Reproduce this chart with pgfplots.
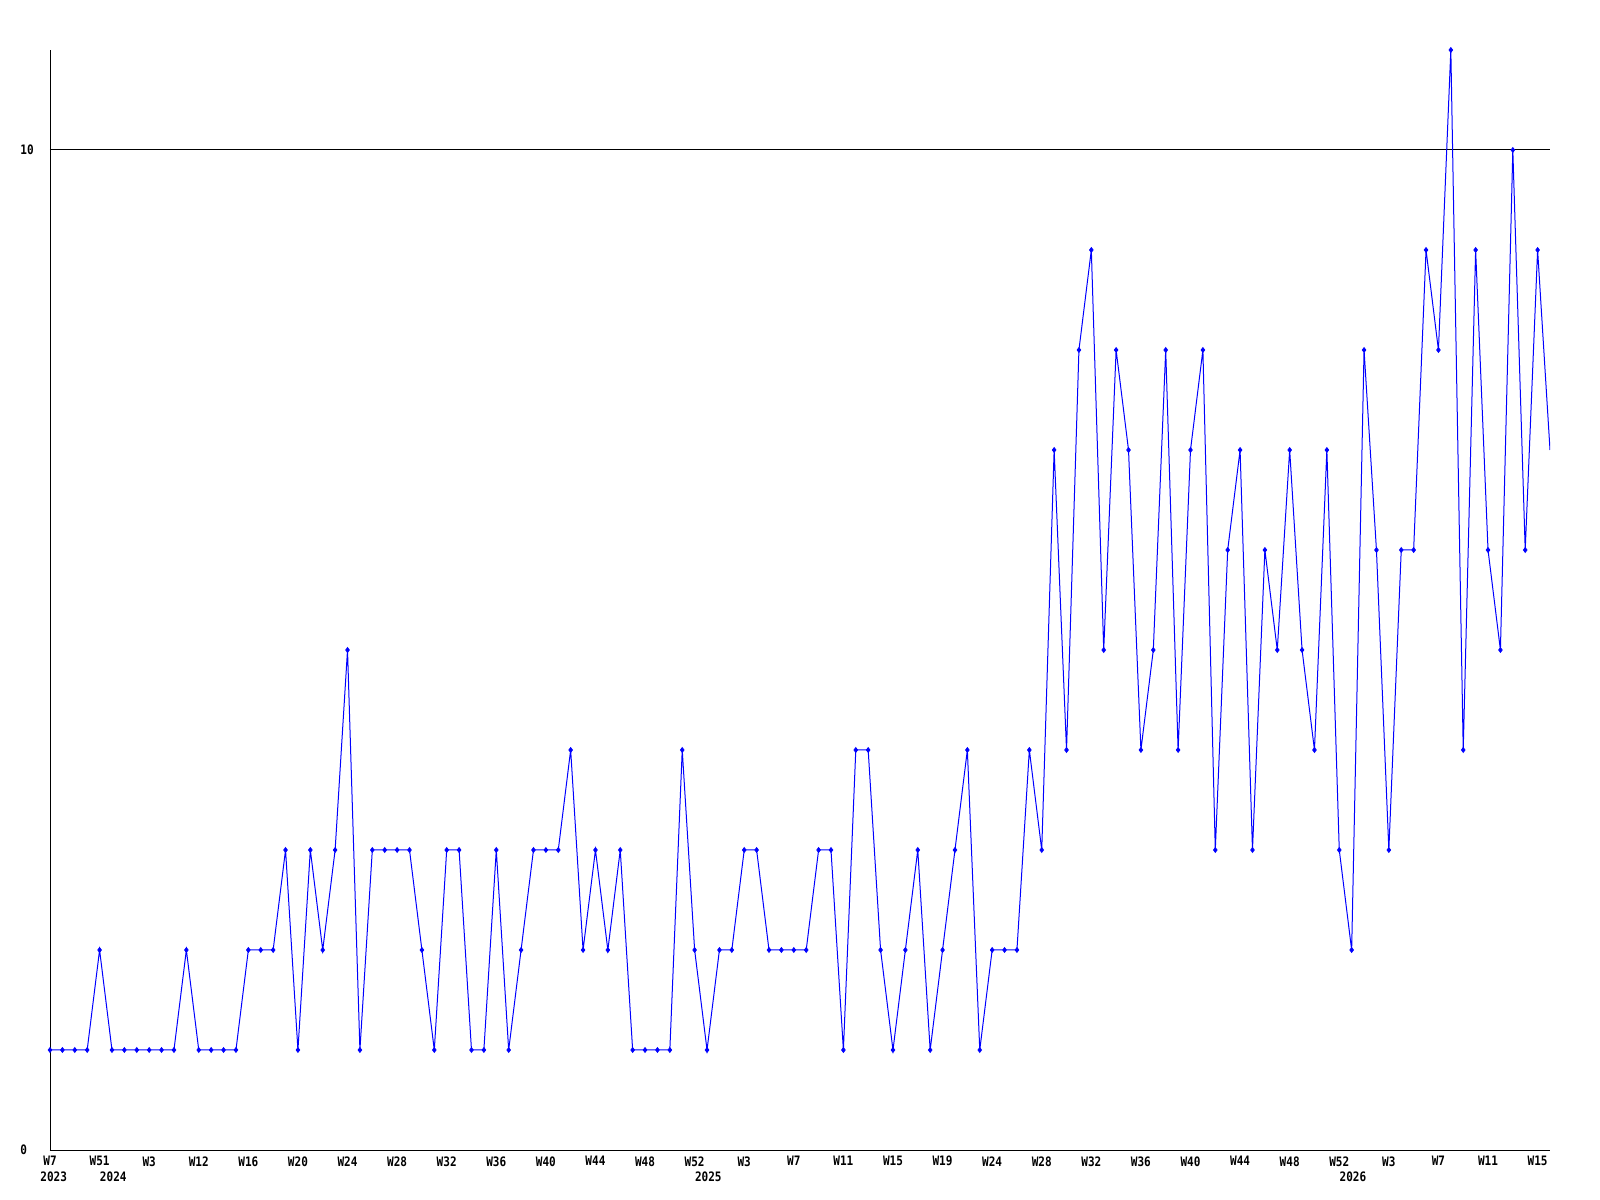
\documentclass[border=0pt]{standalone}
\usepackage{fontspec}
\usepackage{pgfplots}
\usepackage{pgfplotstable}
\pgfplotsset{compat=1.18}
\newfontfamily\pixfont[FakeStretch=0.85]{DejaVu Sans Mono}

% one row per week, idx = position on the x axis
\pgfplotstableread{
idx val
0 1
1 1
2 1
3 1
4 2
5 1
6 1
7 1
8 1
9 1
10 1
11 2
12 1
13 1
14 1
15 1
16 2
17 2
18 2
19 3
20 1
21 3
22 2
23 3
24 5
25 1
26 3
27 3
28 3
29 3
30 2
31 1
32 3
33 3
34 1
35 1
36 3
37 1
38 2
39 3
40 3
41 3
42 4
43 2
44 3
45 2
46 3
47 1
48 1
49 1
50 1
51 4
52 2
53 1
54 2
55 2
56 3
57 3
58 2
59 2
60 2
61 2
62 3
63 3
64 1
65 4
66 4
67 2
68 1
69 2
70 3
71 1
72 2
73 3
74 4
75 1
76 2
77 2
78 2
79 4
80 3
81 7
82 4
83 8
84 9
85 5
86 8
87 7
88 4
89 5
90 8
91 4
92 7
93 8
94 3
95 6
96 7
97 3
98 6
99 5
100 7
101 5
102 4
103 7
104 3
105 2
106 8
107 6
108 3
109 6
110 6
111 9
112 8
113 11
114 4
115 9
116 6
117 5
118 10
119 6
120 9
121 7
}\weekly

\begin{document}
\begin{tikzpicture}
\path (-25bp,-25bp) rectangle (775bp,575bp);
\begin{axis}[
    at={(0,0)}, anchor=south west,
    scale only axis, width=750bp, height=550bp,
    xmin=0, xmax=121, ymin=0, ymax=11,
    axis lines=left,
    axis line style={-, black, line width=0.5bp},
    major tick length=0pt,
    xtick={0,4,...,120},
    xticklabels={W7,W51,W3,W12,W16,W20,W24,W28,W32,W36,W40,W44,W48,W52,
                 W3,W7,W11,W15,W19,W24,W28,W32,W36,W40,W44,W48,W52,
                 W3,W7,W11,W15},
    ytick={0,10}, yticklabels={0,10},
    ymajorgrids, grid style={black, line width=0.5bp},
    extra x ticks={0,4,52,104},
    extra x tick labels={\hspace*{-5bp}2023,2024,2025,2026},
    extra x tick style={xticklabel style={anchor=north west}, xticklabel shift=10.5bp},
    tick label style={font=\pixfont\bfseries\fontsize{6.5bp}{7bp}\selectfont, inner sep=0pt},
    xticklabel style={anchor=north},
    xticklabel shift=3bp,
    yticklabel style={anchor=west, xshift=-15bp},
]
\addplot[blue, line width=0.5bp, mark=none] table[x=idx, y=val] {\weekly};
\addplot[blue, only marks, mark=diamond*, mark size=1.2bp,
         skip coords between index={121}{122}] table[x=idx, y=val] {\weekly};
\end{axis}
\end{tikzpicture}
\end{document}
